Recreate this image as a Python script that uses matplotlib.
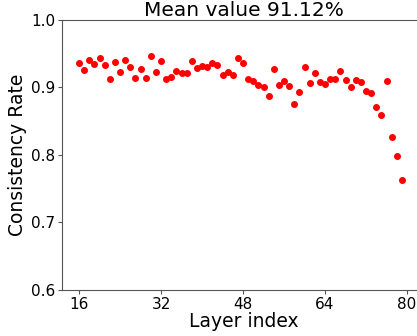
import numpy as np
import matplotlib.pyplot as plt

# Per-layer consistency rate (layers 16..79)
layers = np.arange(16, 80)
rates = [
    0.936, 0.926, 0.940, 0.935, 0.944, 0.933, 0.912, 0.938, 0.923, 0.940,
    0.931, 0.914, 0.927, 0.914, 0.946, 0.923, 0.939, 0.913, 0.916, 0.924,
    0.922, 0.922, 0.939, 0.929, 0.932, 0.930, 0.936, 0.933, 0.918, 0.923,
    0.919, 0.944, 0.937, 0.912, 0.909, 0.903, 0.901, 0.888, 0.927, 0.904,
    0.909, 0.902, 0.875, 0.893, 0.931, 0.907, 0.921, 0.908, 0.905, 0.913,
    0.913, 0.925, 0.911, 0.900, 0.911, 0.908, 0.895, 0.892, 0.871, 0.859,
    0.910, 0.826, 0.799, 0.763,
]
xticks = [16, 32, 48, 64, 80]
yticks = [0.6, 0.7, 0.8, 0.9, 1.0]

fig = plt.figure(figsize=(4.17, 3.36), dpi=100)
# axes runs a bit past the right edge, so the right spine is cut off
ax = fig.add_axes([0.1487, 0.1369, 0.8705, 0.8036])

ax.scatter(layers, rates, s=16, color='red', zorder=3)

ax.set_xlim(12.68, 83.5)
ax.set_ylim(0.6, 1.0)
ax.set_xticks(xticks)
ax.set_yticks(yticks)
ax.tick_params(labelsize=11, length=3, color='#555555', pad=2)
for sp in ax.spines.values():
    sp.set_color('#555555')

ax.set_title("Mean value 91.12%", fontsize=14.5, pad=0)
ax.set_xlabel("Layer index", fontsize=13.5, labelpad=0)
ax.set_ylabel("Consistency Rate", fontsize=13.5, labelpad=3)

fig.savefig("out.png", dpi=100)
